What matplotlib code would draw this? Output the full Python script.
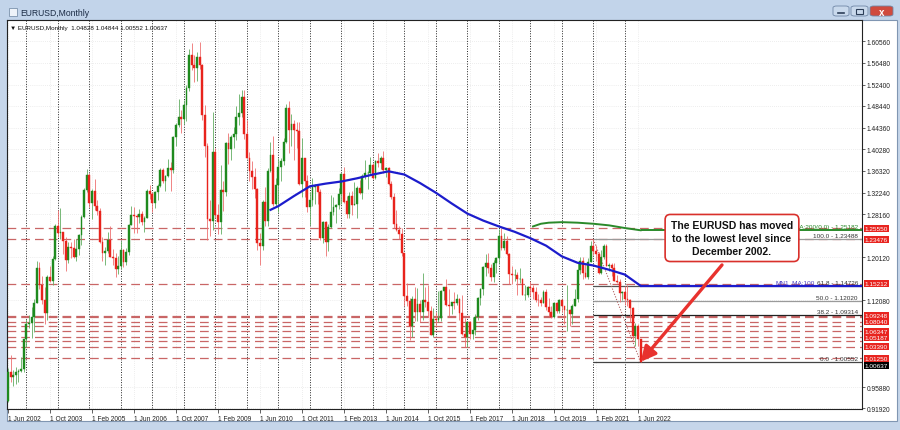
import numpy as np
import matplotlib.pyplot as plt
from matplotlib.patches import Rectangle, FancyBboxPatch
from matplotlib.transforms import blended_transform_factory

plt.rcParams['font.family'] = ['Liberation Sans', 'DejaVu Sans']

# monthly EURUSD candles, Jun 2002 .. Jul 2022 (one row per year)
open_ = [
    0.9330, 0.9867, 0.9783, 0.9811, 0.9869, 0.9888, 0.9931,
    1.0485, 1.0762, 1.0788, 1.0904, 1.1163, 1.1804, 1.1488, 1.1220, 1.0978, 1.1649, 1.1573, 1.1985,
    1.2595, 1.2463, 1.2478, 1.2318, 1.1970, 1.2200, 1.2185, 1.2027, 1.2174, 1.2432, 1.2765, 1.3268,
    1.3558, 1.3035, 1.3260, 1.2964, 1.2870, 1.2305, 1.2097, 1.2125, 1.2335, 1.2025, 1.1995, 1.1794,
    1.1845, 1.2156, 1.1923, 1.2115, 1.2622, 1.2800, 1.2793, 1.2760, 1.2815, 1.2678, 1.2752, 1.3246,
    1.3197, 1.3023, 1.3230, 1.3352, 1.3650, 1.3448, 1.3540, 1.3680, 1.3638, 1.4265, 1.4482, 1.4632,
    1.4592, 1.4861, 1.5181, 1.5793, 1.5600, 1.5544, 1.5753, 1.5601, 1.4673, 1.4088, 1.2733, 1.2700,
    1.3977, 1.2804, 1.2670, 1.3280, 1.3240, 1.4158, 1.4035, 1.4258, 1.4325, 1.4638, 1.4718, 1.5004,
    1.4325, 1.3870, 1.3627, 1.3508, 1.3298, 1.2281, 1.2232, 1.3048, 1.2687, 1.3630, 1.3923, 1.3000,
    1.3367, 1.3692, 1.3805, 1.4163, 1.4806, 1.4393, 1.4496, 1.4393, 1.4368, 1.3390, 1.3866, 1.3445,
    1.2960, 1.3083, 1.3331, 1.3343, 1.3240, 1.2368, 1.2665, 1.2303, 1.2577, 1.2858, 1.2960, 1.2986,
    1.3193, 1.3578, 1.3056, 1.2818, 1.3168, 1.2995, 1.3009, 1.3301, 1.3222, 1.3525, 1.3582, 1.3589,
    1.3745, 1.3486, 1.3805, 1.3770, 1.3870, 1.3636, 1.3690, 1.3389, 1.3131, 1.2630, 1.2525, 1.2452,
    1.2098, 1.1289, 1.1196, 1.0731, 1.1225, 1.0986, 1.1146, 1.0985, 1.1212, 1.1177, 1.1004, 1.0565,
    1.0861, 1.0832, 1.0873, 1.1380, 1.1452, 1.1130, 1.1103, 1.1174, 1.1157, 1.1240, 1.0981, 1.0588,
    1.0517, 1.0795, 1.0574, 1.0652, 1.0895, 1.1243, 1.1426, 1.1837, 1.1906, 1.1813, 1.1645, 1.1904,
    1.2005, 1.2414, 1.2193, 1.2324, 1.2078, 1.1693, 1.1684, 1.1691, 1.1600, 1.1603, 1.1311, 1.1316,
    1.1467, 1.1444, 1.1372, 1.1216, 1.1213, 1.1168, 1.1369, 1.1076, 1.0986, 1.0899, 1.1151, 1.1016,
    1.1212, 1.1094, 1.1026, 1.1031, 1.0955, 1.1100, 1.1233, 1.1778, 1.1936, 1.1722, 1.1647, 1.1927,
    1.2216, 1.2136, 1.2075, 1.1728, 1.2020, 1.2227, 1.1858, 1.1868, 1.1808, 1.1578, 1.1558, 1.1338,
    1.1370, 1.1235, 1.1217, 1.1067, 1.0544, 1.0732, 1.04828,
]
high = [
    0.9950, 1.0185, 0.9910, 0.9955, 0.9930, 1.0145, 1.0495,
    1.0860, 1.0935, 1.1080, 1.1225, 1.1935, 1.1930, 1.1670, 1.1450, 1.1685, 1.1845, 1.2030, 1.2640,
    1.2900, 1.2930, 1.2480, 1.2390, 1.2290, 1.2290, 1.2350, 1.2360, 1.2440, 1.2810, 1.3300, 1.3665,
    1.3580, 1.3290, 1.3480, 1.3090, 1.2940, 1.2385, 1.2200, 1.2480, 1.2590, 1.2170, 1.2100, 1.2040,
    1.2320, 1.2160, 1.2190, 1.2640, 1.2980, 1.2950, 1.2830, 1.2910, 1.2880, 1.2780, 1.3290, 1.3365,
    1.3230, 1.3250, 1.3375, 1.3680, 1.3680, 1.3550, 1.3850, 1.3790, 1.4280, 1.4530, 1.4965, 1.4760,
    1.4950, 1.5240, 1.5905, 1.6020, 1.5800, 1.5845, 1.6038, 1.5620, 1.4865, 1.4150, 1.3080, 1.4720,
    1.4055, 1.3010, 1.3740, 1.3440, 1.4160, 1.4340, 1.4305, 1.4445, 1.4845, 1.5060, 1.5145, 1.5140,
    1.4580, 1.3990, 1.3820, 1.3690, 1.3310, 1.2470, 1.3090, 1.3335, 1.3680, 1.4160, 1.4280, 1.3500,
    1.3860, 1.3860, 1.4250, 1.4880, 1.4940, 1.4700, 1.4580, 1.4550, 1.4550, 1.4250, 1.3875, 1.3550,
    1.3235, 1.3490, 1.3385, 1.3380, 1.3285, 1.2690, 1.2690, 1.2640, 1.3170, 1.3140, 1.3010, 1.3310,
    1.3580, 1.3710, 1.3160, 1.3240, 1.3245, 1.3415, 1.3345, 1.3450, 1.3570, 1.3830, 1.3620, 1.3895,
    1.3775, 1.3825, 1.3965, 1.3905, 1.3995, 1.3700, 1.3700, 1.3440, 1.3220, 1.2890, 1.2600, 1.2570,
    1.2100, 1.1535, 1.1245, 1.1290, 1.1465, 1.1435, 1.1215, 1.1715, 1.1460, 1.1495, 1.1095, 1.1060,
    1.0990, 1.1375, 1.1410, 1.1460, 1.1615, 1.1425, 1.1185, 1.1365, 1.1330, 1.1255, 1.1300, 1.0875,
    1.0830, 1.0830, 1.0905, 1.0950, 1.1270, 1.1445, 1.1845, 1.2070, 1.2090, 1.1880, 1.1960, 1.2025,
    1.2535, 1.2555, 1.2475, 1.2415, 1.2095, 1.1850, 1.1790, 1.1735, 1.1815, 1.1620, 1.1500, 1.1485,
    1.1570, 1.1490, 1.1450, 1.1325, 1.1265, 1.1410, 1.1415, 1.1250, 1.1110, 1.1180, 1.1180, 1.1240,
    1.1240, 1.1100, 1.1495, 1.1040, 1.1145, 1.1420, 1.1910, 1.2010, 1.2010, 1.1880, 1.2000, 1.2310,
    1.2349, 1.2245, 1.2115, 1.2150, 1.2265, 1.2255, 1.1910, 1.1910, 1.1910, 1.1690, 1.1615, 1.1385,
    1.1485, 1.1495, 1.1240, 1.1075, 1.0785, 1.0775, 1.04844,
]
low = [
    0.9310, 0.9690, 0.9615, 0.9650, 0.9690, 0.9860, 0.9860,
    1.0335, 1.0690, 1.0500, 1.0620, 1.1160, 1.1420, 1.1140, 1.0765, 1.0850, 1.1560, 1.1500, 1.1960,
    1.2390, 1.2360, 1.2080, 1.1760, 1.1900, 1.2000, 1.2000, 1.1950, 1.2060, 1.2250, 1.2740, 1.3230,
    1.2960, 1.2730, 1.2890, 1.2810, 1.2285, 1.1950, 1.1865, 1.2100, 1.2010, 1.1870, 1.1640, 1.1710,
    1.1800, 1.1830, 1.1860, 1.2060, 1.2620, 1.2460, 1.2460, 1.2660, 1.2610, 1.2480, 1.2740, 1.3100,
    1.2865, 1.2930, 1.3080, 1.3330, 1.3410, 1.3260, 1.3510, 1.3260, 1.3590, 1.4100, 1.4440, 1.4340,
    1.4500, 1.4560, 1.5130, 1.5520, 1.5285, 1.5300, 1.5535, 1.4580, 1.3880, 1.2330, 1.2420, 1.2520,
    1.2740, 1.2455, 1.2450, 1.2885, 1.3150, 1.3750, 1.3830, 1.4050, 1.4200, 1.4480, 1.4630, 1.4220,
    1.3860, 1.3440, 1.3290, 1.3115, 1.2145, 1.1875, 1.2150, 1.2590, 1.2590, 1.3610, 1.2970, 1.2970,
    1.2860, 1.3430, 1.3740, 1.4150, 1.3970, 1.4100, 1.3840, 1.4050, 1.3360, 1.3145, 1.3140, 1.2860,
    1.2625, 1.2970, 1.3000, 1.3000, 1.2335, 1.2285, 1.2040, 1.2135, 1.2560, 1.2800, 1.2660, 1.2925,
    1.3000, 1.3030, 1.2750, 1.2745, 1.2795, 1.2990, 1.2755, 1.3200, 1.3105, 1.3480, 1.3295, 1.3550,
    1.3480, 1.3475, 1.3700, 1.3670, 1.3590, 1.3505, 1.3365, 1.3110, 1.2570, 1.2500, 1.2360, 1.2035,
    1.1100, 1.1100, 1.0460, 1.0520, 1.0820, 1.0820, 1.0810, 1.0850, 1.1085, 1.0895, 1.0560, 1.0520,
    1.0710, 1.0810, 1.0820, 1.1215, 1.1100, 1.0910, 1.0950, 1.1045, 1.1120, 1.0850, 1.0570, 1.0340,
    1.0340, 1.0495, 1.0495, 1.0570, 1.0840, 1.1120, 1.1310, 1.1660, 1.1720, 1.1575, 1.1555, 1.1720,
    1.1915, 1.2155, 1.2155, 1.2055, 1.1510, 1.1510, 1.1575, 1.1300, 1.1525, 1.1300, 1.1215, 1.1265,
    1.1290, 1.1235, 1.1175, 1.1110, 1.1105, 1.1160, 1.1025, 1.0925, 1.0880, 1.0880, 1.0980, 1.0980,
    1.0990, 1.0775, 1.0635, 1.0725, 1.0765, 1.1095, 1.1185, 1.1695, 1.1610, 1.1625, 1.1600, 1.1925,
    1.2055, 1.1950, 1.1705, 1.1705, 1.1985, 1.1845, 1.1750, 1.1665, 1.1565, 1.1525, 1.1185, 1.1220,
    1.1120, 1.1105, 1.0805, 1.0470, 1.0350, 1.0360, 1.00552,
]
close = [
    0.9867, 0.9783, 0.9811, 0.9869, 0.9888, 0.9931, 1.0485,
    1.0762, 1.0788, 1.0904, 1.1163, 1.1804, 1.1488, 1.1220, 1.0978, 1.1649, 1.1573, 1.1985, 1.2595,
    1.2463, 1.2478, 1.2318, 1.1970, 1.2200, 1.2185, 1.2027, 1.2174, 1.2432, 1.2765, 1.3268, 1.3558,
    1.3035, 1.3260, 1.2964, 1.2870, 1.2305, 1.2097, 1.2125, 1.2335, 1.2025, 1.1995, 1.1794, 1.1845,
    1.2156, 1.1923, 1.2115, 1.2622, 1.2800, 1.2793, 1.2760, 1.2815, 1.2678, 1.2752, 1.3246, 1.3197,
    1.3023, 1.3230, 1.3352, 1.3650, 1.3448, 1.3540, 1.3680, 1.3638, 1.4265, 1.4482, 1.4632, 1.4592,
    1.4861, 1.5181, 1.5793, 1.5600, 1.5544, 1.5753, 1.5601, 1.4673, 1.4088, 1.2733, 1.2700, 1.3977,
    1.2804, 1.2670, 1.3280, 1.3240, 1.4158, 1.4035, 1.4258, 1.4325, 1.4638, 1.4718, 1.5004, 1.4325,
    1.3870, 1.3627, 1.3508, 1.3298, 1.2281, 1.2232, 1.3048, 1.2687, 1.3630, 1.3923, 1.3000, 1.3367,
    1.3692, 1.3805, 1.4163, 1.4806, 1.4393, 1.4496, 1.4393, 1.4368, 1.3390, 1.3866, 1.3445, 1.2960,
    1.3083, 1.3331, 1.3343, 1.3240, 1.2368, 1.2665, 1.2303, 1.2577, 1.2858, 1.2960, 1.2986, 1.3193,
    1.3578, 1.3056, 1.2818, 1.3168, 1.2995, 1.3009, 1.3301, 1.3222, 1.3525, 1.3582, 1.3589, 1.3745,
    1.3486, 1.3805, 1.3770, 1.3870, 1.3636, 1.3690, 1.3389, 1.3131, 1.2630, 1.2525, 1.2452, 1.2098,
    1.1289, 1.1196, 1.0731, 1.1225, 1.0986, 1.1146, 1.0985, 1.1212, 1.1177, 1.1004, 1.0565, 1.0861,
    1.0832, 1.0873, 1.1380, 1.1452, 1.1130, 1.1103, 1.1174, 1.1157, 1.1240, 1.0981, 1.0588, 1.0517,
    1.0795, 1.0574, 1.0652, 1.0895, 1.1243, 1.1426, 1.1837, 1.1906, 1.1813, 1.1645, 1.1904, 1.2005,
    1.2414, 1.2193, 1.2324, 1.2078, 1.1693, 1.1684, 1.1691, 1.1600, 1.1603, 1.1311, 1.1316, 1.1467,
    1.1444, 1.1372, 1.1216, 1.1213, 1.1168, 1.1369, 1.1076, 1.0986, 1.0899, 1.1151, 1.1016, 1.1212,
    1.1094, 1.1026, 1.1031, 1.0955, 1.1100, 1.1233, 1.1778, 1.1936, 1.1722, 1.1647, 1.1927, 1.2216,
    1.2136, 1.2075, 1.1728, 1.2020, 1.2227, 1.1858, 1.1868, 1.1808, 1.1578, 1.1558, 1.1338, 1.1370,
    1.1235, 1.1217, 1.1067, 1.0544, 1.0732, 1.0484, 1.00637,
]

# moving averages (bar index from Jun 2002 = 0)
ma100_idx = [100, 103, 109, 115, 121, 127, 133, 139, 145, 151, 157, 163, 169,
             175, 181, 187, 193, 199, 205, 211, 217, 223, 229, 235, 241]
ma100 = [1.290, 1.297, 1.316, 1.334, 1.339, 1.343, 1.349, 1.356, 1.362, 1.356, 1.340,
         1.322, 1.302, 1.283, 1.270, 1.259, 1.249, 1.237, 1.223, 1.203, 1.191, 1.186,
         1.178, 1.169, 1.148]
ma200_idx = [200, 203, 206, 211, 217, 223, 229, 235, 241]
ma200 = [1.259, 1.264, 1.266, 1.267, 1.266, 1.264, 1.261, 1.256, 1.2518]

# horizontal support / resistance lines
levels = [1.25550, 1.23476, 1.15212, 1.09248, 1.08900, 1.08040, 1.07270,
          1.06347, 1.05187, 1.04420, 1.03390, 1.01250]
level_labels = [1.25550, 1.23476, 1.15212, 1.09248, 1.08040, 1.06347,
                1.05187, 1.03390, 1.01250]

# fibonacci retracement (Jan 2021 high to Jul 2022 low)
fib_start = 223
fib_pct = ['100.0', '61.8', '50.0', '38.2', '0.0']
fib_vals = [1.23488, 1.14726, 1.12020, 1.09314, 1.00552]

price_ticks = [1.60560, 1.56480, 1.52400, 1.48440, 1.44360, 1.40280, 1.36320, 1.32240,
               1.28160, 1.20120, 1.12080, 0.95880, 0.91920]
date_labels = ['1 Jun 2002', '1 Oct 2003', '1 Feb 2005', '1 Jun 2006', '1 Oct 2007',
               '1 Feb 2009', '1 Jun 2010', '1 Oct 2011', '1 Feb 2013', '1 Jun 2014',
               '1 Oct 2015', '1 Feb 2017', '1 Jun 2018', '1 Oct 2019', '1 Feb 2021',
               '1 Jun 2022']

W, H = 900, 431


def fx(x):
    return x / W


def fy(y):
    return 1 - y / H


fig = plt.figure(figsize=(9, 4.31), dpi=100, facecolor='#c6d6ea')

# window chrome (kept under the chart axes)
fig.patches.append(Rectangle((0, fy(21)), 1, 21 / H, transform=fig.transFigure,
                             fc='#c2d4ea', ec='none', zorder=-3))
fig.patches.append(Rectangle((fx(7), fy(422)), fx(890), 401 / H, transform=fig.transFigure,
                             fc='white', ec='#8096b2', lw=0.8, zorder=-2))
fig.patches.append(Rectangle((fx(9), fy(17)), fx(8), 8 / H, transform=fig.transFigure,
                             fc='#eef3f9', ec='#7d93ae', lw=0.6, zorder=-1))
fig.lines.append(plt.Line2D([fx(10), fx(12), fx(14), fx(16)], [fy(15), fy(12), fy(14), fy(10)],
                            transform=fig.transFigure, color='#3a7a3a', lw=0.7, zorder=-1))
fig.text(fx(20), fy(13), 'EURUSD,Monthly', fontsize=6.2, color='#1b2b44', va='center')
for x0, x1, fc in [(833, 849, '#c9d9ec'), (851, 868, '#c9d9ec'), (870, 893, '#cf4a3e')]:
    fig.patches.append(FancyBboxPatch((fx(x0), fy(17)), fx(x1 - x0), 10 / H,
                                      boxstyle='round,pad=0,rounding_size=0.004',
                                      transform=fig.transFigure, fc=fc, ec='#6f86a6', lw=0.6,
                                      zorder=-1))
fig.lines.append(plt.Line2D([fx(838), fx(844)], [fy(14), fy(14)], transform=fig.transFigure,
                            color='#2c3e58', lw=1.2))
fig.patches.append(Rectangle((fx(856), fy(15)), fx(7), 5 / H, transform=fig.transFigure,
                             fc='none', ec='#2c3e58', lw=0.8))
fig.text(fx(881.5), fy(12.5), 'x', fontsize=7, color='white', ha='center', va='center',
         fontweight='bold')

ax = fig.add_axes([fx(7), fy(410), 855 / W, 389 / H])
ax.set_facecolor('white')
px_per_bar = 2.625
ax.set_xlim(-0.38, -0.38 + 855 / px_per_bar)
ax.set_ylim(1.6056 - 368 / 535, 1.6056 + 21 / 535)

o = np.array(open_)
h = np.array(high)
l = np.array(low)
c = np.array(close)
idx = np.arange(len(c))

# grid and yearly separators
ax.grid(True, color='#dcdcdc', lw=0.5, ls=(0, (1, 2)), zorder=0)
ax.set_axisbelow(True)
jan_idx = np.arange(7, len(c), 12)
ax.vlines(jan_idx, 0.9, 1.7, color='#222222', lw=0.7, ls=(0, (1, 1.6)), zorder=1)

for v in levels:
    ax.axhline(v, color='#c96666', lw=0.9, ls=(0, (7, 4)), zorder=1.5)

# candles
up = c >= o
dn = ~up
ax.vlines(idx[up], l[up], h[up], color='#62ad62', lw=0.6, zorder=3)
ax.vlines(idx[dn], l[dn], h[dn], color='#ee7070', lw=0.6, zorder=3)
ax.bar(idx[up], (c - o)[up], bottom=o[up], width=0.75, color='#1e8a1e',
       edgecolor='#1e8a1e', lw=0.3, zorder=4)
ax.bar(idx[dn], (o - c)[dn], bottom=c[dn], width=0.75, color='#e8231c',
       edgecolor='#e8231c', lw=0.3, zorder=4)

# moving averages
right_end = ax.get_xlim()[1]
ax.plot(ma100_idx, ma100, color='#1c1ccc', lw=1.6, zorder=5)
ax.hlines(ma100[-1], ma100_idx[-1], right_end, color='#1c1ccc', lw=1.6, zorder=5)
ax.plot(ma200_idx, ma200, color='#2a8a2a', lw=1.4, zorder=5)
ax.hlines(ma200[-1], ma200_idx[-1], right_end, color='#2a8a2a', lw=1.4, zorder=5)

# fibonacci
fib_cols = ['#9a9a9a', '#555555', '#9a9a9a', '#222222', '#444444']
ax.hlines(fib_vals, fib_start, right_end, colors=fib_cols, lw=0.9, zorder=2)
ax.plot([fib_start, len(c) - 1], [fib_vals[0], fib_vals[-1]], color='#b06060',
        lw=0.8, ls=(0, (1, 1.5)), zorder=2)

ytr = ax.get_yaxis_transform()
lab_x = (858 - 7) / 855
ax.text(lab_x, ma200[-1] + 0.002, 'MA:200(0,0) - %.5f' % 1.25182, transform=ytr,
        ha='right', va='bottom', fontsize=4.6, color='#2a8a2a', zorder=6)
ax.text((815 - 7) / 855, ma100[-1] + 0.002, 'MN1_MA:100', transform=ytr,
        ha='right', va='bottom', fontsize=4.6, color='#4b3fc4', zorder=6)
for pct, v in zip(fib_pct, fib_vals):
    ax.text(lab_x, v + 0.002, '%s - %.5f' % (pct, v), transform=ytr,
            ha='right', va='bottom', fontsize=4.6, color='#333333', zorder=7)

# axes styling
for s in ax.spines.values():
    s.set_color('#222222')
    s.set_linewidth(0.8)
ax.yaxis.tick_right()
ax.set_yticks(price_ticks)
ax.set_yticklabels(['%.5f' % v for v in price_ticks])
ax.tick_params(axis='y', length=2, width=0.5, labelsize=4.8, pad=1.5, colors='#222222')
ax.set_xticks(np.arange(0, 241, 16))
ax.set_xticklabels(date_labels, ha='left')
ax.tick_params(axis='x', length=3, width=0.5, labelsize=4.8, pad=1.5, colors='#222222')

# price labels on the right scale
trans = blended_transform_factory(ax.transAxes, ax.transData)
for v in level_labels:
    ax.text(1.003, v, '%.5f' % v, transform=trans, ha='left', va='center', fontsize=4.6,
            color='white', clip_on=False, zorder=8,
            bbox=dict(boxstyle='square,pad=0.15', fc='#e8241f', ec='none'))
ax.text(1.003, close[-1] - 0.007, '%.5f' % close[-1], transform=trans, ha='left', va='center',
        fontsize=4.6, color='white', clip_on=False, zorder=8,
        bbox=dict(boxstyle='square,pad=0.15', fc='black', ec='none'))

ax.text(0.004, 0.982, '\u25bc EURUSD,Monthly  %.5f %.5f %.5f %.5f' % (open_[-1], high[-1], low[-1], close[-1]),
        transform=ax.transAxes, ha='left', va='center', fontsize=4.5, color='#111111', zorder=8)

# annotation
ax.annotate('', xy=(len(c) - 1, low[-1] + 0.0005), xytext=(272, 1.187),
            arrowprops=dict(arrowstyle='-|>,head_length=0.9,head_width=0.45', color='#e8322e',
                            lw=2.4, shrinkA=0, shrinkB=0), zorder=8)
ax.text(275.8, 1.2374, 'The EURUSD has moved\nto the lowest level since\nDecember 2002.',
        ha='center', va='center', fontsize=7.5, fontweight='bold', linespacing=1.35,
        color='#111111', zorder=9,
        bbox=dict(boxstyle='round,pad=0.55,rounding_size=0.5', fc='white', ec='#d9302b', lw=1.2))

fig.savefig('out.png', dpi=100, facecolor=fig.get_facecolor())
